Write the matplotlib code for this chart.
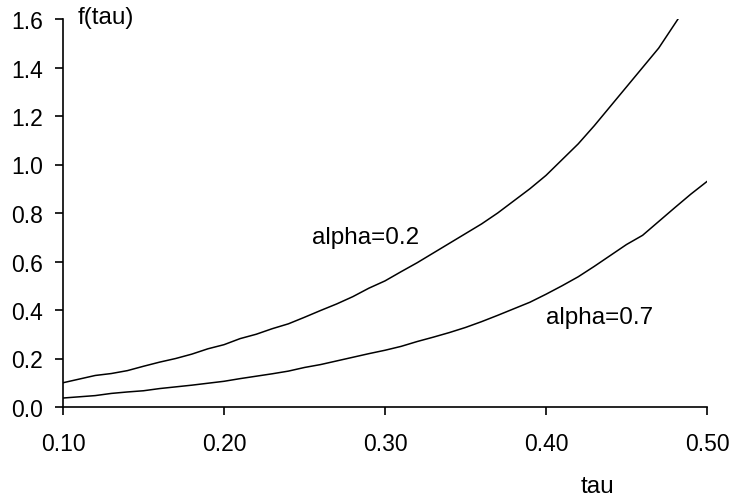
import numpy as np
import matplotlib.pyplot as plt

# ── 資料 ─────────────────────────────────────────────────────────────
tau = [0.10, 0.11, 0.12, 0.13, 0.14, 0.15, 0.16, 0.17, 0.18, 0.19,
       0.20, 0.21, 0.22, 0.23, 0.24, 0.25, 0.26, 0.27, 0.28, 0.29,
       0.30, 0.31, 0.32, 0.33, 0.34, 0.35, 0.36, 0.37, 0.38, 0.39,
       0.40, 0.41, 0.42, 0.43, 0.44, 0.45, 0.46, 0.47, 0.48, 0.49, 0.50]

f_alpha02 = [0.100, 0.115, 0.130, 0.138, 0.150, 0.168, 0.185, 0.200, 0.218, 0.240,
             0.257, 0.282, 0.300, 0.323, 0.343, 0.370, 0.398, 0.425, 0.455, 0.490,
             0.520, 0.558, 0.595, 0.635, 0.675, 0.715, 0.755, 0.800, 0.850, 0.900,
             0.955, 1.020, 1.085, 1.160, 1.240, 1.320, 1.400, 1.480, 1.580, 1.680, 1.790]

f_alpha07 = [0.037, 0.042, 0.047, 0.056, 0.062, 0.067, 0.076, 0.083, 0.090, 0.098,
             0.106, 0.117, 0.127, 0.137, 0.148, 0.163, 0.175, 0.190, 0.205, 0.220,
             0.234, 0.250, 0.270, 0.288, 0.307, 0.328, 0.352, 0.378, 0.405, 0.432,
             0.465, 0.500, 0.537, 0.580, 0.625, 0.670, 0.708, 0.765, 0.822, 0.878, 0.930]

x_ticks = [0.10, 0.20, 0.30, 0.40, 0.50]
y_ticks = [0.0, 0.2, 0.4, 0.6, 0.8, 1.0, 1.2, 1.4, 1.6]

plt.rcParams['font.family'] = ['Liberation Sans', 'DejaVu Sans']

# ── 繪圖 ─────────────────────────────────────────────────────────────
fig = plt.figure(figsize=(7.34, 5.02), dpi=100)
ax = fig.add_axes([63 / 734, 94 / 502, 644 / 734, 388 / 502])

ax.plot(tau, f_alpha02, color='black', lw=1.1)
ax.plot(tau, f_alpha07, color='black', lw=1.1)

ax.set_xlim(0.10, 0.50)
ax.set_ylim(0.0, 1.6)
ax.set_xticks(x_ticks)
ax.set_xticklabels([f'{v:.2f}' for v in x_ticks])
ax.set_yticks(y_ticks)
ax.set_yticklabels([f'{v:.1f}' for v in y_ticks])

for side in ['top', 'right']:
    ax.spines[side].set_visible(False)
for side in ['left', 'bottom']:
    ax.spines[side].set_linewidth(1.2)

ax.tick_params(axis='both', direction='out', length=6, width=1.2,
               labelsize=16.5, colors='black')
ax.tick_params(axis='x', pad=12)
ax.tick_params(axis='y', pad=8.5)

# 曲線標籤與軸標題
ax.text(0.20 + (313 - 225) / 1610, 0.70, 'alpha=0.2', fontsize=17.5,
        va='center', ha='left')
ax.text(0.30 + (547 - 386) / 1610, 0.37, 'alpha=0.7', fontsize=17.5,
        va='center', ha='left')
fig.text(78 / 734, 1 - 18 / 502, 'f(tau)', fontsize=17.5, ha='left', va='center')
fig.text(597 / 734, 1 - 487 / 502, 'tau', fontsize=17.5, ha='center', va='center')

plt.savefig('out.png', dpi=100)
